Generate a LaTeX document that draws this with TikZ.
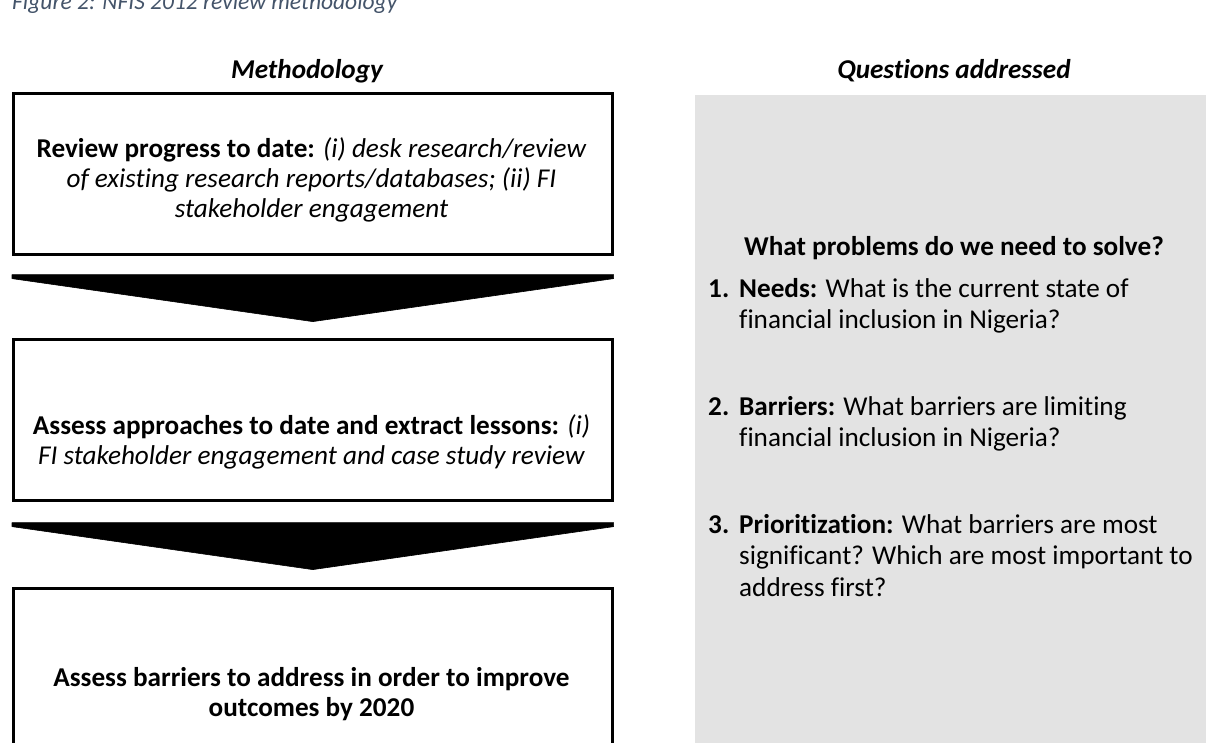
\documentclass[tikz,border=0pt]{standalone}
\usepackage{fontspec}
\setmainfont{Carlito}[Ligatures=CommonOff]
\definecolor{captioncol}{HTML}{44546A}
\definecolor{panelgrey}{HTML}{E3E3E3}
\begin{document}
\begin{tikzpicture}[x=1pt,y=-1pt,
  stepbox/.style={draw=black, line width=2.6pt, fill=white, inner sep=0pt, anchor=north west, minimum width=599pt, minimum height=161pt},
  flowarrow/.style={fill=black, draw=black, line width=0.6pt, line join=round},
  lefttext/.style={inner sep=0pt, anchor=base, font=\fontsize{27.2}{30}\selectfont},
  head/.style={inner sep=0pt, anchor=base, font=\bfseries\itshape\fontsize{27.2}{31}\selectfont},
  qtext/.style={inner sep=0pt, anchor=base west, font=\fontsize{27.2}{31.5}\selectfont},
]
\useasboundingbox (0,0) rectangle (1206,742);
\clip (0,0) rectangle (1206,742);

% caption (cut off at top)
\node[inner sep=0pt, anchor=base west, text=captioncol, font=\itshape\fontsize{23.5}{27}\selectfont] (caption) at (12,9) {Figure 2: NFIS 2012 review methodology};

% column headings
\node[head] (hmeth) at (307,78) {Methodology};
\node[head] (hques) at (954,78) {Questions addressed};

% grey panel
\node[fill=panelgrey, inner sep=0pt, anchor=north west, minimum width=520pt, minimum height=660pt] (panel) at (695,95) {};

% methodology boxes
\node[stepbox] (box1) at (12,92) {};
\node[stepbox] (box2) at (12,338) {};
\node[stepbox] (box3) at (12,587) {};

\node[lefttext] (t1) at (311.5,157) {\begin{tabular}[t]{@{}c@{}}\textbf{Review progress to date:} \textit{(i) desk research/review}\\ \textit{of existing research reports/databases; (ii) FI}\\ \textit{stakeholder engagement}\end{tabular}};
\node[lefttext] (t2) at (311.5,434) {\begin{tabular}[t]{@{}c@{}}\textbf{Assess approaches to date and extract lessons:} \textit{(i)}\\ \textit{FI stakeholder engagement and case study review}\end{tabular}};
\node[lefttext] (t3) at (311.5,686) {\begin{tabular}[t]{@{}c@{}}\textbf{Assess barriers to address in order to improve}\\ \textbf{outcomes by 2020}\end{tabular}};

% downward chevrons between boxes
\fill[flowarrow] ([yshift=-19pt]box1.south west) -- ([yshift=-19pt]box1.south east) -- ([yshift=-23pt]box1.south east) -- ([yshift=-66pt]box1.south) -- ([yshift=-23pt]box1.south west) -- cycle;
\fill[flowarrow] ([yshift=-21pt]box2.south west) -- ([yshift=-21pt]box2.south east) -- ([yshift=-25pt]box2.south east) -- ([yshift=-68pt]box2.south) -- ([yshift=-25pt]box2.south west) -- cycle;

% questions
\node[inner sep=0pt, anchor=base, font=\bfseries\fontsize{27.2}{31.5}\selectfont] (qhead) at (954,255) {What problems do we need to solve?};
\node[qtext] (q1) at (708,297) {\begin{tabular}[t]{@{}p{31pt}@{}l@{}}\textbf{1.} & \textbf{Needs:} What is the current state of\\ & financial inclusion in Nigeria?\end{tabular}};
\node[qtext] (q2) at (708,415) {\begin{tabular}[t]{@{}p{31pt}@{}l@{}}\textbf{2.} & \textbf{Barriers:} What barriers are limiting\\ & financial inclusion in Nigeria?\end{tabular}};
\node[qtext] (q3) at (708,533) {\begin{tabular}[t]{@{}p{31pt}@{}l@{}}\textbf{3.} & \textbf{Prioritization:} What barriers are most\\ & significant? Which are most important to\\ & address first?\end{tabular}};
\end{tikzpicture}
\end{document}
